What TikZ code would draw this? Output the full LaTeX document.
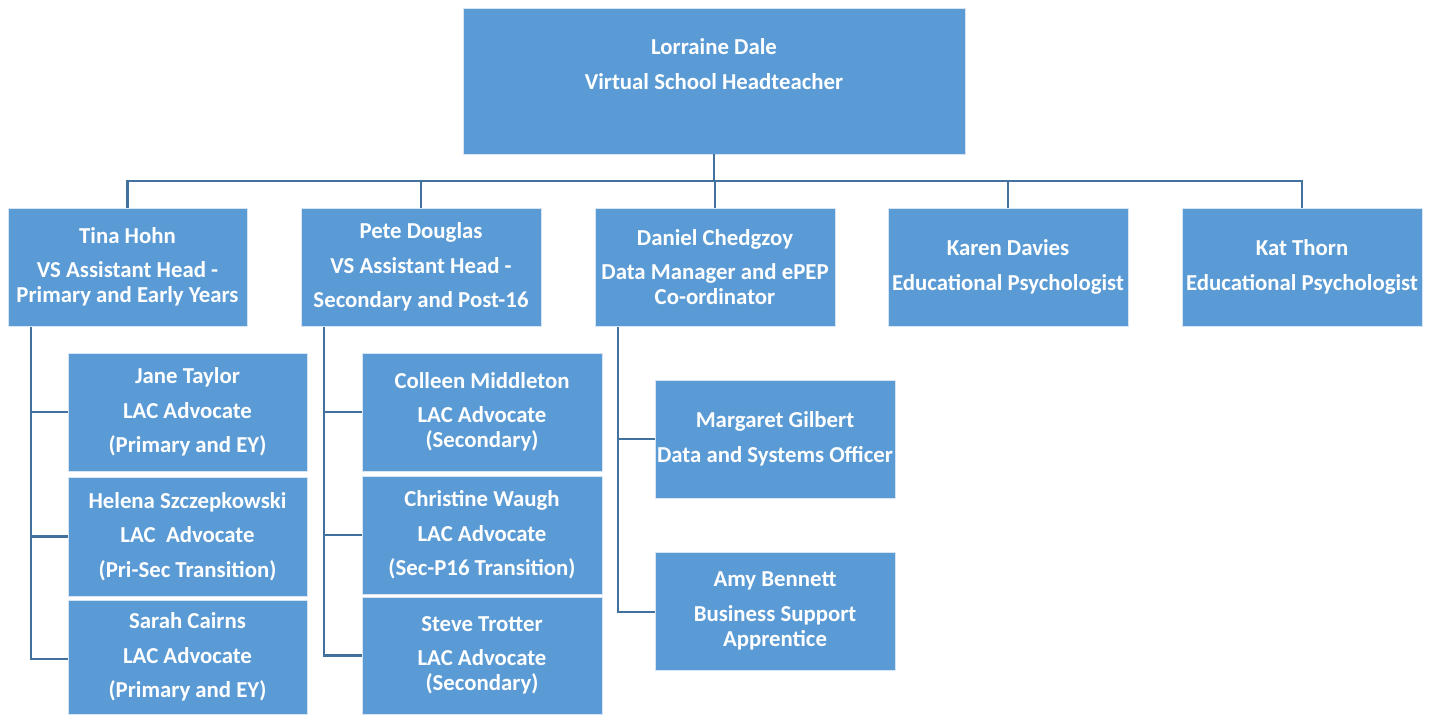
\documentclass[tikz,border=0pt]{standalone}
\usepackage{fontspec}
\setmainfont{Carlito}
\definecolor{boxblue}{HTML}{5B9BD5}
\definecolor{boxedge}{HTML}{D6E4F3}
\definecolor{linkblue}{HTML}{41719C}
\begin{document}
\begin{tikzpicture}[x=1pt,y=-1pt,
  card/.style={rectangle,fill=boxblue,draw=boxedge,line width=0.8pt,inner sep=0pt,
    text=white,align=center,font=\fontsize{22.8}{25}\selectfont\bfseries,
    execute at begin node={\rule{0pt}{20.5pt}}},
  conn/.style={draw=linkblue,line width=2.6pt}]
\useasboundingbox (0,0) rectangle (1435,715);
% top
\node[card,minimum width=502,minimum height=146] (top) at (714,81) {};
\node[text=white,align=center,font=\fontsize{22.8}{25}\selectfont\bfseries] (toplabel) at (714,64)
  {Lorraine Dale\\[9.5pt]Virtual School Headteacher};
% level 2
\node[card,minimum width=239,minimum height=118] (tina) at (127.5,267) {Tina Hohn\\[9.5pt]VS Assistant Head -\\Primary and Early Years};
\node[card,minimum width=240,minimum height=118] (pete) at (421,267) {Pete Douglas\\[9.5pt]VS Assistant Head -\\[9.5pt]Secondary and Post-16};
\node[card,minimum width=240,minimum height=118] (dan) at (715,267) {Daniel Chedgzoy\\[9.5pt]Data Manager and ePEP\\Co-ordinator};
\node[card,minimum width=240,minimum height=118] (karen) at (1008,267) {Karen Davies\\[9.5pt]Educational Psychologist};
\node[card,minimum width=240,minimum height=118] (kat) at (1302,267) {Kat Thorn\\[9.5pt]Educational Psychologist};
% Tina's team
\node[card,minimum width=239,minimum height=118] (jane) at (187.5,412) {Jane Taylor\\[9.5pt]LAC Advocate\\[9.5pt](Primary and EY)};
\node[card,minimum width=239,minimum height=119] (helena) at (187.5,536.5) {Helena Szczepkowski\\[9.5pt]LAC\ \ Advocate\\[9.5pt](Pri-Sec Transition)};
\node[card,minimum width=239,minimum height=114] (sarah) at (187.5,657) {Sarah Cairns\\[9.5pt]LAC Advocate\\[9.5pt](Primary and EY)};
% Pete's team
\node[card,minimum width=240,minimum height=118] (colleen) at (482,412) {Colleen Middleton\\[9.5pt]LAC Advocate\\(Secondary)};
\node[card,minimum width=240,minimum height=118] (christine) at (482,535) {Christine Waugh\\[9.5pt]LAC Advocate\\[9.5pt](Sec-P16 Transition)};
\node[card,minimum width=240,minimum height=117] (steve) at (482,655.5) {Steve Trotter\\[9.5pt]LAC Advocate\\(Secondary)};
% Daniel's team
\node[card,minimum width=240,minimum height=118] (margaret) at (775,439) {Margaret Gilbert\\[9.5pt]Data and Systems Officer};
\node[card,minimum width=240,minimum height=118] (amy) at (775,611) {Amy Bennett\\[9.5pt]Business Support\\Apprentice};
% connectors
\coordinate (bus) at (714,181);
\draw[conn] (top.south) -- (bus);
\draw[conn] (bus) -| (tina.north);
\draw[conn] (bus) -| (pete.north);
\draw[conn] (bus) -| (dan.north);
\draw[conn] (bus) -| (karen.north);
\draw[conn] (bus) -| (kat.north);
\coordinate (tinaL) at (31,327);
\draw[conn] (tinaL) |- (jane.west);
\draw[conn] (tinaL) |- (helena.west);
\draw[conn] (tinaL) |- ([yshift=-2pt]sarah.west);
\coordinate (peteL) at (324,327);
\draw[conn] (peteL) |- (colleen.west);
\draw[conn] (peteL) |- (christine.west);
\draw[conn] (peteL) |- (steve.west);
\coordinate (danL) at (618,327);
\draw[conn] (danL) |- (margaret.west);
\draw[conn] (danL) |- ([yshift=-1pt]amy.west);
\end{tikzpicture}
\end{document}
